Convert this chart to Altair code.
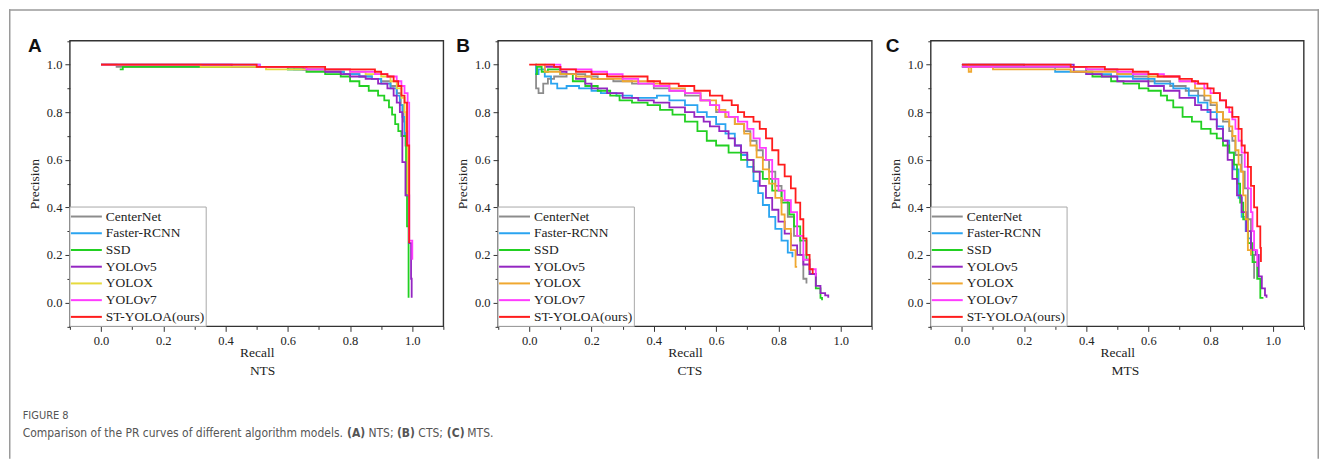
import altair as alt
import pandas as pd

MODELS = ["CenterNet", "Faster-RCNN", "SSD", "YOLOv5", "YOLOX", "YOLOv7", "ST-YOLOA(ours)"]
COLORS_NTS = ["#8c8c8c", "#2aa4f0", "#22d022", "#9426c2", "#e6da3c", "#ff3cff", "#ff1c1c"]
COLORS_CTS = ["#8c8c8c", "#2aa4f0", "#22d022", "#9426c2", "#f0a830", "#ff3cff", "#ff1c1c"]
COLORS_MTS = COLORS_CTS

MAJOR_TICKS = [0.0, 0.2, 0.4, 0.6, 0.8, 1.0]
MINOR_TICKS = [-0.1, 0.1, 0.3, 0.5, 0.7, 0.9, 1.1]

# ---------------- Panel A : NTS ----------------
NTS_RECALL = {
    "CenterNet": [0.0, 0.05, 0.3, 0.62, 0.72, 0.78, 0.83, 0.87, 0.9, 0.93, 0.95, 0.963, 0.972, 0.978, 0.983, 0.988],
    "Faster-RCNN": [0.0, 0.51, 0.6, 0.72, 0.78, 0.83, 0.87, 0.9, 0.93, 0.95, 0.96, 0.968, 0.975, 0.982, 0.985],
    "SSD": [0.06, 0.07, 0.6, 0.66, 0.72, 0.77, 0.8, 0.83, 0.86, 0.89, 0.91, 0.925, 0.935, 0.945, 0.955, 0.965, 0.98, 0.983, 0.988],
    "YOLOv5": [0.0, 0.42, 0.65, 0.72, 0.77, 0.8, 0.85, 0.89, 0.92, 0.94, 0.95, 0.96, 0.968, 0.978, 0.99, 0.996, 0.998],
    "YOLOX": [0.0, 0.32, 0.53, 0.72, 0.8, 0.85, 0.9, 0.93, 0.95, 0.965, 0.975, 0.98, 0.985, 0.988],
    "YOLOv7": [0.0, 0.51, 0.66, 0.7, 0.8, 0.88, 0.92, 0.95, 0.965, 0.975, 0.985, 0.99, 1.0, 1.0],
    "ST-YOLOA(ours)": [0.0, 0.5, 0.72, 0.88, 0.9, 0.92, 0.94, 0.955, 0.965, 0.975, 0.983, 0.99],
}
NTS_PRECISION = {
    "CenterNet": [1.0, 0.99, 0.99, 0.98, 0.97, 0.96, 0.95, 0.94, 0.93, 0.91, 0.88, 0.83, 0.76, 0.66, 0.45, 0.43],
    "Faster-RCNN": [1.0, 0.99, 0.98, 0.97, 0.96, 0.95, 0.94, 0.92, 0.9, 0.87, 0.83, 0.78, 0.7, 0.61, 0.45],
    "SSD": [0.98, 0.99, 0.98, 0.97, 0.96, 0.95, 0.93, 0.91, 0.89, 0.87, 0.85, 0.82, 0.79, 0.75, 0.72, 0.7, 0.45, 0.32, 0.02],
    "YOLOv5": [1.0, 0.99, 0.98, 0.97, 0.96, 0.95, 0.94, 0.92, 0.9, 0.87, 0.84, 0.8, 0.59, 0.45, 0.25, 0.1, 0.02],
    "YOLOX": [1.0, 0.99, 0.98, 0.98, 0.97, 0.96, 0.95, 0.93, 0.9, 0.86, 0.8, 0.72, 0.46, 0.45],
    "YOLOv7": [1.0, 0.99, 0.98, 0.98, 0.97, 0.96, 0.95, 0.93, 0.91, 0.88, 0.84, 0.26, 0.26, 0.18],
    "ST-YOLOA(ours)": [1.0, 0.99, 0.98, 0.97, 0.96, 0.95, 0.93, 0.91, 0.87, 0.84, 0.66, 0.25],
}

# ---------------- Panel B : CTS ----------------
CTS_RECALL = {
    "CenterNet": [0.02, 0.022, 0.03, 0.045, 0.06, 0.08, 0.12, 0.18, 0.22, 0.27, 0.33, 0.4, 0.45, 0.5, 0.55, 0.58, 0.6, 0.63, 0.66, 0.69, 0.71, 0.73, 0.75, 0.77, 0.79, 0.81, 0.83, 0.85, 0.87, 0.88, 0.89],
    "Faster-RCNN": [0.02, 0.022, 0.03, 0.05, 0.07, 0.09, 0.12, 0.16, 0.2, 0.23, 0.28, 0.33, 0.38, 0.41, 0.45, 0.5, 0.54, 0.57, 0.6, 0.63, 0.66, 0.68, 0.7, 0.72, 0.735, 0.75, 0.77, 0.79, 0.81, 0.83, 0.845],
    "SSD": [0.02, 0.025, 0.04, 0.06, 0.1, 0.14, 0.18, 0.22, 0.26, 0.29, 0.33, 0.38, 0.42, 0.46, 0.5, 0.54, 0.57, 0.6, 0.64, 0.68, 0.72, 0.75, 0.78, 0.81, 0.835, 0.85, 0.87, 0.89, 0.9, 0.92, 0.935, 0.94],
    "YOLOv5": [0.05, 0.1, 0.12, 0.15, 0.18, 0.2, 0.25, 0.3, 0.35, 0.4, 0.45, 0.5, 0.53, 0.56, 0.58, 0.61, 0.64, 0.66, 0.68, 0.7, 0.72, 0.74, 0.76, 0.78, 0.8, 0.82, 0.84, 0.86, 0.88, 0.9, 0.92, 0.935, 0.95, 0.96],
    "YOLOX": [0.02, 0.05, 0.1, 0.15, 0.2, 0.3, 0.4, 0.45, 0.5, 0.55, 0.6, 0.63, 0.66, 0.69, 0.71, 0.73, 0.75, 0.77, 0.79, 0.81, 0.82, 0.84, 0.855, 0.86],
    "YOLOv7": [0.05, 0.1, 0.15, 0.2, 0.25, 0.3, 0.35, 0.4, 0.45, 0.5, 0.55, 0.58, 0.61, 0.64, 0.67, 0.7, 0.72, 0.74, 0.76, 0.78, 0.8, 0.82, 0.84, 0.86, 0.88, 0.9, 0.92],
    "ST-YOLOA(ours)": [0.0, 0.08, 0.1, 0.15, 0.2, 0.25, 0.33, 0.38, 0.42, 0.48, 0.53, 0.58, 0.62, 0.65, 0.67, 0.69, 0.72, 0.74, 0.76, 0.78, 0.8, 0.82, 0.84, 0.855, 0.87, 0.88, 0.89, 0.9, 0.91],
}
CTS_PRECISION = {
    "CenterNet": [1.0, 0.9, 0.88, 0.92, 0.94, 0.95, 0.96, 0.95, 0.94, 0.93, 0.92, 0.9, 0.89, 0.87, 0.85, 0.83, 0.8, 0.78, 0.75, 0.72, 0.68, 0.64, 0.6, 0.55, 0.49, 0.43, 0.36, 0.28, 0.2, 0.1, 0.08],
    "Faster-RCNN": [1.0, 0.96, 0.98, 0.95, 0.92, 0.9, 0.91, 0.9, 0.89, 0.88, 0.87, 0.86, 0.86, 0.87, 0.85, 0.83, 0.8, 0.78, 0.75, 0.71, 0.66, 0.62, 0.57, 0.51, 0.46, 0.41, 0.36, 0.31, 0.26, 0.21, 0.19],
    "SSD": [0.96, 0.99, 0.97, 0.98, 0.96, 0.93, 0.91, 0.89, 0.87, 0.85, 0.84, 0.83, 0.81, 0.79, 0.76, 0.72, 0.68, 0.66, 0.63, 0.6, 0.55, 0.52, 0.47, 0.42, 0.37, 0.32, 0.26, 0.18, 0.12, 0.06, 0.02, 0.01],
    "YOLOv5": [0.99, 0.97, 0.96, 0.94, 0.92, 0.9, 0.88, 0.86, 0.85, 0.84, 0.82, 0.8, 0.78, 0.76, 0.74, 0.72, 0.69, 0.66, 0.63, 0.6, 0.55, 0.49, 0.44, 0.39, 0.34, 0.29, 0.24, 0.2, 0.16, 0.12, 0.07, 0.04, 0.03, 0.02],
    "YOLOX": [1.0, 0.97, 0.96, 0.95, 0.94, 0.93, 0.92, 0.9, 0.88, 0.85, 0.81, 0.78, 0.75, 0.71, 0.66, 0.61, 0.56, 0.5, 0.44, 0.37, 0.31, 0.22, 0.15, 0.15],
    "YOLOv7": [1.0, 0.98, 0.98, 0.97, 0.96, 0.94, 0.92, 0.91, 0.89, 0.88, 0.85, 0.83, 0.8, 0.78, 0.76, 0.73, 0.69, 0.65, 0.6, 0.52, 0.47, 0.43, 0.38, 0.28, 0.18, 0.14, 0.11],
    "ST-YOLOA(ours)": [1.0, 0.99, 0.98, 0.97, 0.96, 0.95, 0.95, 0.93, 0.92, 0.91, 0.89, 0.87, 0.85, 0.83, 0.8, 0.78, 0.76, 0.73, 0.69, 0.64, 0.58, 0.53, 0.48, 0.42, 0.35, 0.27, 0.2, 0.14, 0.12],
}

# ---------------- Panel C : MTS ----------------
MTS_RECALL = {
    "CenterNet": [0.0, 0.2, 0.4, 0.5, 0.55, 0.6, 0.67, 0.72, 0.76, 0.78, 0.8, 0.82, 0.84, 0.86, 0.87, 0.88, 0.9, 0.91, 0.92, 0.93, 0.94],
    "Faster-RCNN": [0.0, 0.3, 0.4, 0.48, 0.55, 0.62, 0.68, 0.73, 0.76, 0.79, 0.82, 0.84, 0.86, 0.875, 0.89, 0.9, 0.913, 0.92, 0.93],
    "SSD": [0.0, 0.4, 0.42, 0.48, 0.52, 0.57, 0.6, 0.64, 0.66, 0.68, 0.71, 0.74, 0.77, 0.8, 0.82, 0.84, 0.86, 0.875, 0.885, 0.895, 0.905, 0.92, 0.935, 0.95, 0.96, 0.97],
    "YOLOv5": [0.0, 0.36, 0.4, 0.45, 0.5, 0.6, 0.65, 0.7, 0.75, 0.77, 0.8, 0.82, 0.84, 0.855, 0.87, 0.885, 0.9, 0.915, 0.93, 0.945, 0.955, 0.965, 0.975, 0.98],
    "YOLOX": [0.02, 0.022, 0.03, 0.05, 0.1, 0.2, 0.35, 0.5, 0.6, 0.7, 0.75, 0.78, 0.8, 0.82, 0.84, 0.86, 0.87, 0.88, 0.89, 0.897, 0.905, 0.913, 0.92, 0.93],
    "YOLOv7": [0.0, 0.4, 0.5, 0.55, 0.65, 0.7, 0.75, 0.78, 0.8, 0.83, 0.85, 0.86, 0.87, 0.88, 0.89, 0.9, 0.91, 0.92, 0.93, 0.935, 0.94, 0.95],
    "ST-YOLOA(ours)": [0.0, 0.35, 0.46, 0.55, 0.6, 0.63, 0.7, 0.74, 0.76, 0.79, 0.81, 0.83, 0.85, 0.87, 0.89, 0.9, 0.91, 0.92, 0.93, 0.94, 0.95, 0.96, 0.962],
}
MTS_PRECISION = {
    "CenterNet": [1.0, 0.99, 0.98, 0.96, 0.95, 0.93, 0.91, 0.89, 0.87, 0.85, 0.83, 0.8, 0.76, 0.72, 0.68, 0.62, 0.55, 0.48, 0.35, 0.2, 0.1],
    "Faster-RCNN": [0.99, 0.97, 0.96, 0.95, 0.94, 0.92, 0.9, 0.87, 0.84, 0.8, 0.74, 0.68, 0.63, 0.56, 0.44, 0.36, 0.3, 0.27, 0.25],
    "SSD": [0.99, 0.97, 0.95, 0.93, 0.92, 0.9, 0.89, 0.87, 0.85, 0.82, 0.78, 0.76, 0.73, 0.71, 0.69, 0.66, 0.63, 0.58, 0.5, 0.42, 0.35, 0.25, 0.17, 0.1, 0.02, 0.02],
    "YOLOv5": [1.0, 0.97, 0.96, 0.95, 0.93, 0.91, 0.89, 0.86, 0.83, 0.81, 0.77, 0.73, 0.68, 0.6, 0.52, 0.45, 0.38, 0.3, 0.22, 0.2, 0.11, 0.06, 0.03, 0.02],
    "YOLOX": [1.0, 0.97, 0.99, 0.99, 0.98, 0.98, 0.97, 0.96, 0.95, 0.93, 0.9, 0.87, 0.84, 0.8, 0.77, 0.74, 0.7, 0.64, 0.58, 0.55, 0.45, 0.35, 0.22, 0.2],
    "YOLOv7": [0.99, 0.98, 0.97, 0.96, 0.95, 0.93, 0.92, 0.9, 0.88, 0.85, 0.82, 0.8, 0.77, 0.73, 0.68, 0.63, 0.57, 0.48, 0.38, 0.3, 0.22, 0.15],
    "ST-YOLOA(ours)": [1.0, 0.99, 0.98, 0.97, 0.96, 0.95, 0.94, 0.93, 0.92, 0.9, 0.88, 0.85, 0.82, 0.78, 0.73, 0.66, 0.63, 0.57, 0.49, 0.4, 0.32, 0.23, 0.17],
}

CAPTION_LABEL = "FIGURE 8"
CAPTION_PARTS = [
    ("Comparison of the PR curves of different algorithm models.", "normal"),
    ("(A)", "bold"), ("NTS;", "normal"),
    ("(B)", "bold"), ("CTS;", "normal"),
    ("(C)", "bold"), ("MTS.", "normal"),
]
CAPTION_X = [13.7, 338.5, 360.0, 388.5, 410.0, 438.5, 459.0]

# ---------------- layout constants ----------------
W, H = 1312, 450
TOP, BOT = 31.5, 317.5
SERIF = "Liberation Serif"
SANS = "Liberation Sans"
CAP_FONT = "DejaVu Sans Condensed, DejaVu Sans, sans-serif"
INK = "#222222"
FRAME = "#333333"

PANELS = [
    dict(name="NTS", letter="A", rec=NTS_RECALL, prec=NTS_PRECISION, colors=COLORS_NTS,
         L=61.0, R=435.1, letter_x=19.0, sub_x=254.0),
    dict(name="CTS", letter="B", rec=CTS_RECALL, prec=CTS_PRECISION, colors=COLORS_CTS,
         L=489.8, R=864.2, letter_x=448.0, sub_x=682.0),
    dict(name="MTS", letter="C", rec=MTS_RECALL, prec=MTS_PRECISION, colors=COLORS_MTS,
         L=923.2, R=1296.8, letter_x=878.0, sub_x=1118.0),
]

one = pd.DataFrame({"k": [0]})
layers = []

for p in PANELS:
    L, R = p["L"], p["R"]
    xs = alt.Scale(domain=[-0.1, 1.1], range=[L, R], nice=False, zero=False)
    ys = alt.Scale(domain=[-0.1, 1.1], range=[BOT, TOP], nice=False, zero=False)
    cs = alt.Scale(domain=MODELS, range=p["colors"])

    rows = []
    for m in MODELS:
        for i, (r, v) in enumerate(zip(p["rec"][m], p["prec"][m])):
            rows.append({"model": m, "recall": r, "precision": v, "i": i})
    df = pd.DataFrame(rows)

    frame_df = pd.DataFrame({"x0": [-0.1], "x1": [1.1], "y0": [-0.1], "y1": [1.1]})
    frame = alt.Chart(frame_df).mark_rect(fillOpacity=0, stroke=FRAME, strokeWidth=1.4).encode(
        x=alt.X("x0:Q", scale=xs, axis=alt.Axis(orient="bottom", offset=BOT - H, values=MINOR_TICKS,
                                               tickSize=3, labels=False, domain=False, grid=False,
                                               title=None, tickColor=FRAME, tickWidth=1)),
        x2="x1:Q",
        y=alt.Y("y0:Q", scale=ys, axis=alt.Axis(orient="left", offset=-L, values=MINOR_TICKS,
                                               tickSize=3, labels=False, domain=False, grid=False,
                                               title=None, tickColor=FRAME, tickWidth=1)),
        y2="y1:Q",
    )

    lines = alt.Chart(df).mark_line(interpolate="step-after", strokeWidth=1.8).encode(
        x=alt.X("recall:Q", scale=xs, axis=alt.Axis(
            orient="bottom", offset=BOT - H, values=MAJOR_TICKS, format=".1f", tickSize=5,
            tickColor=FRAME, tickWidth=1, domain=False, grid=False, labelPadding=3,
            labelFont=SERIF, labelFontSize=12.5, labelColor=INK,
            title="Recall", titleFont=SERIF, titleFontSize=13.5, titleFontWeight="normal",
            titleColor=INK, titleX=(L + R) / 2, titleY=30, titleBaseline="alphabetic",
            titleAlign="center")),
        y=alt.Y("precision:Q", scale=ys, axis=alt.Axis(
            orient="left", offset=-L, values=MAJOR_TICKS, format=".1f", tickSize=5,
            tickColor=FRAME, tickWidth=1, domain=False, grid=False, labelPadding=3,
            labelFont=SERIF, labelFontSize=12.5, labelColor=INK,
            title="Precision", titleFont=SERIF, titleFontSize=13.5, titleFontWeight="normal",
            titleColor=INK, titleX=-35.5, titleY=(TOP + BOT) / 2, titleBaseline="middle",
            titleAlign="center")),
        color=alt.Color("model:N", scale=cs, legend=None),
        order=alt.Order("i:Q"),
    )

    box = alt.Chart(one).mark_rect(fill="white", stroke="#a8a8a8", strokeWidth=1).encode(
        x=alt.value(L), x2=alt.value(L + 136.5), y=alt.value(198), y2=alt.value(BOT))

    leg_df = pd.DataFrame({"model": MODELS})
    ly = alt.Y("model:N", scale=alt.Scale(type="point", domain=MODELS, range=[207.5, 308.0], padding=0),
               axis=None)
    leg_lines = alt.Chart(leg_df).mark_rule(strokeWidth=2).encode(
        x=alt.value(L + 1), x2=alt.value(L + 32), y=ly,
        color=alt.Color("model:N", scale=cs, legend=None))
    leg_text = alt.Chart(leg_df).mark_text(align="left", baseline="middle", font=SERIF,
                                           fontSize=13.5, color=INK).encode(
        x=alt.value(L + 36), y=ly, text="model:N")

    letter = alt.Chart(one).mark_text(align="left", baseline="alphabetic", font=SANS, fontSize=19,
                                      fontWeight="bold", color="#111111", text=p["letter"]).encode(
        x=alt.value(p["letter_x"]), y=alt.value(43))
    sub = alt.Chart(one).mark_text(align="center", baseline="alphabetic", font=SERIF, fontSize=13.5,
                                   color=INK, text=p["name"]).encode(
        x=alt.value(p["sub_x"]), y=alt.value(366.3))

    layers += [frame, lines, box, leg_lines, leg_text, letter, sub]

# outer figure frame (left, top, right)
FR = "#9a9a9a"
layers.append(alt.Chart(one).mark_rule(color=FR, strokeWidth=1.5).encode(
    x=alt.value(0.75), y=alt.value(0), y2=alt.value(H)))
layers.append(alt.Chart(one).mark_rule(color=FR, strokeWidth=1.5).encode(
    x=alt.value(0), x2=alt.value(W), y=alt.value(0.75)))
layers.append(alt.Chart(one).mark_rule(color=FR, strokeWidth=1.5).encode(
    x=alt.value(W - 0.75), y=alt.value(0), y2=alt.value(H)))

# caption
CAP_COLOR = "#555555"
layers.append(alt.Chart(one).mark_text(align="left", baseline="alphabetic", font=CAP_FONT, fontSize=11,
                                       color=CAP_COLOR, text=CAPTION_LABEL).encode(
    x=alt.value(13.7), y=alt.value(410.3)))
for (txt, wt), cx in zip(CAPTION_PARTS, CAPTION_X):
    layers.append(alt.Chart(one).mark_text(align="left", baseline="alphabetic", font=CAP_FONT,
                                           fontSize=12, fontWeight=wt, color=CAP_COLOR, text=txt).encode(
        x=alt.value(cx), y=alt.value(428.7)))

chart = alt.layer(*layers).resolve_scale(
    x="independent", y="independent", color="independent"
).properties(width=W, height=H, padding=0).configure_view(stroke="transparent")

chart.save("out.html", embed_options={"renderer": "svg", "actions": False})
